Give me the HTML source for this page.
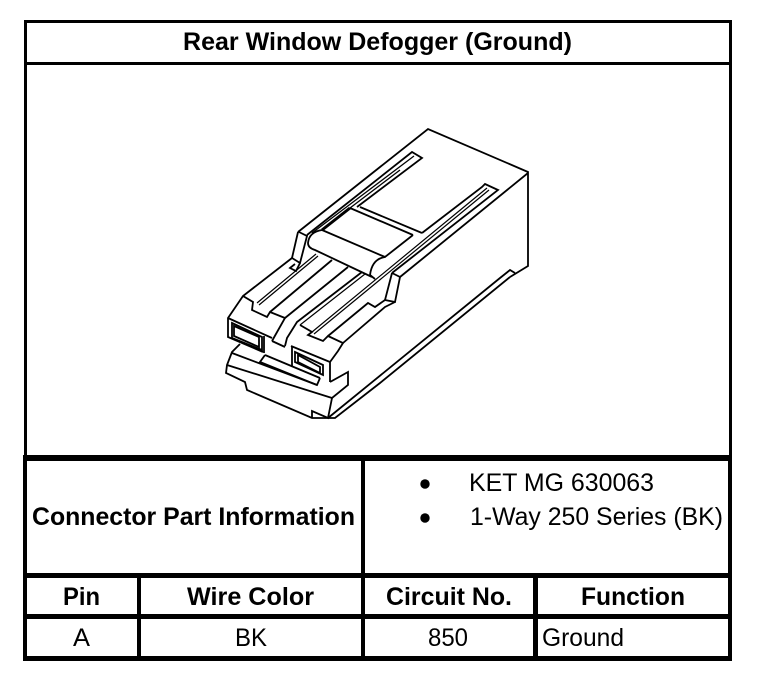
<!DOCTYPE html>
<html><head><meta charset="utf-8"><style>
html,body{margin:0;padding:0;background:#fff}
svg{display:block}
text{font-family:"Liberation Sans",sans-serif;font-size:25px;fill:#000}
.b{font-weight:bold}
</style></head><body>
<svg width="768" height="684" viewBox="0 0 768 684" xmlns="http://www.w3.org/2000/svg">
<g fill="#000" shape-rendering="crispEdges">
<rect x="24" y="20" width="708" height="3"/>
<rect x="24" y="62" width="708" height="3"/>
<rect x="24" y="20" width="3" height="440"/>
<rect x="729" y="20" width="3" height="440"/>
<rect x="23" y="455" width="709" height="6"/>
<rect x="23" y="455" width="4" height="206"/>
<rect x="728" y="455" width="4" height="206"/>
<rect x="361" y="455" width="4" height="204"/>
<rect x="23" y="573" width="709" height="5"/>
<rect x="23" y="614" width="709" height="5"/>
<rect x="23" y="656" width="709" height="5"/>
<rect x="137" y="573" width="4" height="86"/>
<rect x="533" y="573" width="5" height="86"/>
</g>
<text class="b" x="183" y="50" textLength="389" lengthAdjust="spacingAndGlyphs">Rear Window Defogger (Ground)</text>
<text class="b" x="32" y="525" textLength="323" lengthAdjust="spacingAndGlyphs">Connector Part Information</text>
<text x="469" y="491" textLength="185" lengthAdjust="spacingAndGlyphs">KET MG 630063</text>
<text x="470" y="525" textLength="253" lengthAdjust="spacingAndGlyphs">1-Way 250 Series (BK)</text>
<circle cx="425" cy="484" r="4.7"/><circle cx="425" cy="518" r="4.7"/>
<text class="b" x="63" y="605" textLength="37" lengthAdjust="spacingAndGlyphs">Pin</text>
<text class="b" x="187" y="605" textLength="127" lengthAdjust="spacingAndGlyphs">Wire Color</text>
<text class="b" x="386" y="605" textLength="126" lengthAdjust="spacingAndGlyphs">Circuit No.</text>
<text class="b" x="581" y="605" textLength="104" lengthAdjust="spacingAndGlyphs">Function</text>
<text x="73" y="646" textLength="17" lengthAdjust="spacingAndGlyphs">A</text>
<text x="235" y="646" textLength="32" lengthAdjust="spacingAndGlyphs">BK</text>
<text x="428" y="646" textLength="40" lengthAdjust="spacingAndGlyphs">850</text>
<text x="542" y="646" textLength="82" lengthAdjust="spacingAndGlyphs">Ground</text>

<g fill="none" stroke="#000" stroke-width="1.8" stroke-linejoin="miter">
<!-- outer body -->
<path d="M298 232L428 129L528 172V266L510 277"/>
<path d="M528 173L400 277"/>
<!-- left shoulder -->
<path d="M299 232L307 236L300 263L292 258L298 232"/>
<path d="M300 263L296 271L290 268L295 264"/>
<path d="M292 258L243 296L228 318V337L263 352"/>
<!-- left rail -->
<path d="M307 235L412 152L422 158L357 207"/>
<path d="M312 233L414 156" stroke-width="1.3"/>
<path d="M350 208L400 170" stroke-width="1.3"/>
<path d="M350 208L322 230" stroke-width="3"/>
<!-- cap and roller -->
<path d="M350 208L413 235M360 207L422 233"/>
<path d="M422 233L482 187L485 184L498 190L392 273"/>
<path d="M413 235L385 257L322 230"/>
<path d="M322 230Q309 232 308 243Q308 248 315 250L372 277"/>
<path d="M385 257Q372 259 370 275L375 279"/>
<!-- right rail inner double -->
<path d="M487 188L312 332M489 190L314 334" stroke-width="1.2"/>
<!-- shoulder right -->
<path d="M392 273L400 277L395 302L385 300L392 273"/>
<!-- left hump -->
<path d="M243 296L253 302L252 310L267 317L270 312L285 318L272 341"/>
<path d="M316 254L257 303M318 256L259 305" stroke-width="1.2"/>
<path d="M332 260L270 312"/>
<path d="M348 267L285 318"/>
<!-- left face -->
<path d="M228 318L272 338"/>
<path d="M264 336V353"/>
<path d="M232 323L262 337V350L232 338Z"/>
<path d="M234 326L259 337V347L234 336Z"/>
<!-- middle -->
<path d="M362 272L297 322L287 338L285 346" />
<path d="M365 274L300 325" stroke-width="1.2"/>
<path d="M272 341L285 347"/>
<path d="M300 325L312 332L308 335L323 341L328 336L343 343L338 351L330 362"/>
<path d="M328 336L368 303L375 307L385 300"/>
<path d="M343 343L350 337L385 307L395 302"/>
<!-- right hump -->
<path d="M291 346L330 362V382"/>
<path d="M292 346V367"/>
<path d="M295 352L323 365V375L295 362Z"/>
<path d="M298 355L320 367V373L298 362Z"/>
<!-- lower body -->
<path d="M240 344L232 352L227 365L226 373L245 382L247 390L312 418H335L380 383L510 277"/>
<path d="M328 418L500 278L510 270L515 273"/>
<path d="M227 365L332 398L348 385V372L330 382"/>
<path d="M332 398L328 418L312 411V418"/>
<path d="M232 353L317 385L320 378"/>
<path d="M265 355L260 362L317 385"/>
<path d="M265 355L320 378"/>
</g>
</svg>
</body></html>
